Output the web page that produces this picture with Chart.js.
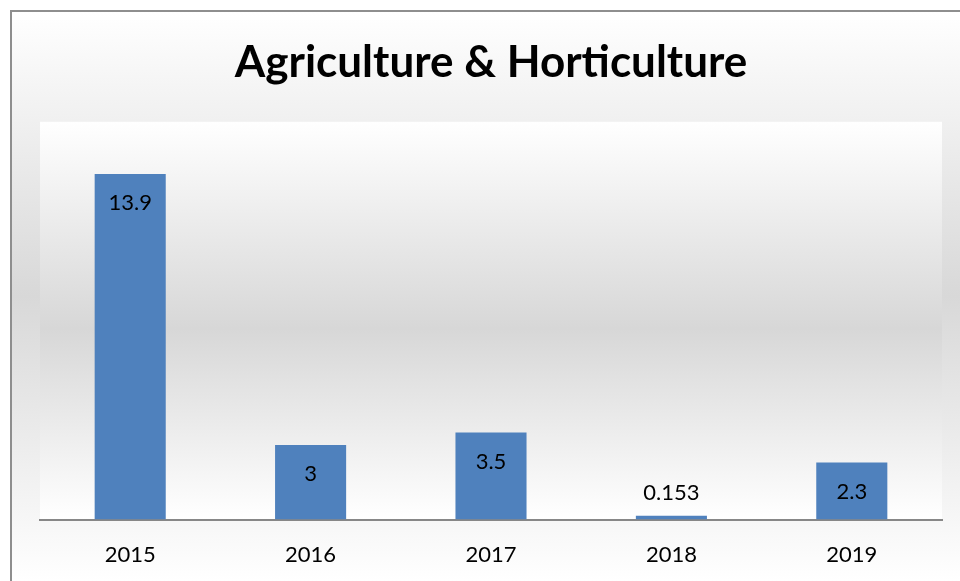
<!DOCTYPE html>
<html>
<head>
<meta charset="utf-8">
<script src="https://cdn.jsdelivr.net/npm/chart.js@4/dist/chart.umd.min.js"></script>
<style>
  html, body { margin: 0; padding: 0; background: #ffffff; }
  #wrap { width: 960px; height: 581px; position: relative; }
</style>
</head>
<body>
<div id="wrap"><canvas id="c" width="960" height="581"></canvas></div>
<script>
// Yearly values for Agriculture & Horticulture
const years = ['2015', '2016', '2017', '2018', '2019'];
const values = [13.9, 3, 3.5, 0.153, 2.3];
const valueLabels = ['13.9', '3', '3.5', '0.153', '2.3'];
const yMax = 16;

const FONT = 'Lato, "Open Sans", sans-serif';

// Chart background: framed panel with a soft vertical gradient,
// plus a white-grey-white gradient behind the plot area
const backdrop = {
  id: 'backdrop',
  beforeDraw(chart) {
    const ctx = chart.ctx;
    const W = chart.width, H = chart.height;
    ctx.save();
    ctx.fillStyle = '#ffffff';
    ctx.fillRect(0, 0, W, H);

    const g = ctx.createLinearGradient(0, 11, 0, H);
    g.addColorStop(0, '#ffffff');
    g.addColorStop(0.5, '#d8d8d8');
    g.addColorStop(1, '#ffffff');
    ctx.fillStyle = g;
    ctx.fillRect(11, 11, W, H);

    const a = chart.chartArea;
    const pg = ctx.createLinearGradient(0, a.top, 0, a.bottom);
    pg.addColorStop(0, '#ffffff');
    pg.addColorStop(0.52, '#d7d7d7');
    pg.addColorStop(1, '#ffffff');
    ctx.fillStyle = pg;
    ctx.fillRect(a.left, a.top, a.right - a.left, a.bottom - a.top);

    ctx.strokeStyle = '#8e8e8e';
    ctx.lineWidth = 2;
    ctx.beginPath();
    ctx.moveTo(11, H + 5);
    ctx.lineTo(11, 11);
    ctx.lineTo(W + 5, 11);
    ctx.stroke();
    ctx.restore();
  }
};

// Value labels at the inside end of each bar; short bars get theirs above
const barLabels = {
  id: 'barLabels',
  afterDatasetsDraw(chart) {
    const ctx = chart.ctx;
    const meta = chart.getDatasetMeta(0);
    ctx.save();
    ctx.font = '22px ' + FONT;
    ctx.fillStyle = '#000000';
    ctx.textAlign = 'center';
    ctx.textBaseline = 'middle';
    meta.data.forEach((bar, i) => {
      let y = bar.y + 29;
      if (y + 10 > bar.base) y = bar.y - 23;
      ctx.fillText(valueLabels[i], bar.x, y);
    });
    ctx.restore();
  }
};

new Chart(document.getElementById('c'), {
  type: 'bar',
  data: {
    labels: years,
    datasets: [{
      data: values,
      backgroundColor: '#4f81bd',
      borderWidth: 0,
      categoryPercentage: 1,
      barPercentage: 0.394
    }]
  },
  options: {
    responsive: false,
    animation: false,
    events: [],
    layout: { padding: { left: 40, right: 18, top: 0, bottom: -9 } },
    plugins: {
      legend: { display: false },
      tooltip: { enabled: false },
      title: {
        display: true,
        text: 'Agriculture & Horticulture',
        color: '#000000',
        font: { family: FONT, size: 44, weight: 'bold' },
        padding: { top: 36, bottom: 33 }
      }
    },
    scales: {
      x: {
        grid: { display: false, drawTicks: false },
        border: { display: true, color: '#878787', width: 2 },
        ticks: {
          color: '#000000',
          font: { family: FONT, size: 22 },
          padding: 22
        }
      },
      y: {
        display: false,
        min: 0,
        max: yMax
      }
    }
  },
  plugins: [backdrop, barLabels]
});
</script>
</body>
</html>
